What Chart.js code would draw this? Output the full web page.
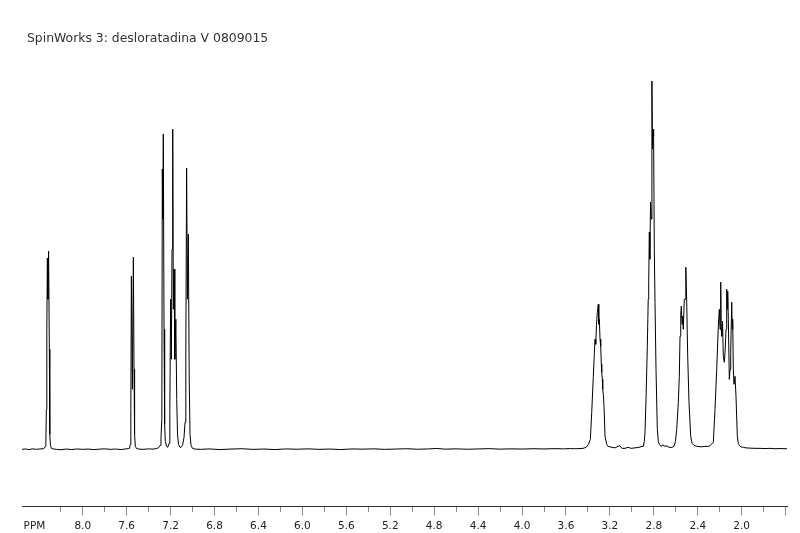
<!DOCTYPE html>
<html><head><meta charset="utf-8">
<script src="https://cdn.jsdelivr.net/npm/chart.js@4.4.0/dist/chart.umd.min.js"></script>
<style>html,body{margin:0;padding:0;background:#fff;}canvas{display:block;}</style>
</head><body>
<canvas id="c" width="800" height="533"></canvas>
<script>
const titleText = 'SpinWorks 3: desloratadina V 0809015';
const axisName = 'PPM';
const axisNamePos = 8.44;
const majorTicks = [8.0, 7.6, 7.2, 6.8, 6.4, 6.0, 5.6, 5.2, 4.8, 4.4, 4.0, 3.6, 3.2, 2.8, 2.4, 2.0];
const tickLabels = ['8.0','7.6','7.2','6.8','6.4','6.0','5.6','5.2','4.8','4.4','4.0','3.6','3.2','2.8','2.4','2.0'];
const minorTicks = [8.2, 7.8, 7.4, 7.0, 6.6, 6.2, 5.8, 5.4, 5.0, 4.6, 4.2, 3.8, 3.4, 3.0, 2.6, 2.2, 1.8];
const edgeTicks = [1.6];
const ppmMin = 1.5875, ppmMax = 8.553;

// spectrum points: [shift (ppm), intensity]
const regionLeft = [[8.553,0],[8.52,0.4],[8.49,-0.3],[8.46,0.5],[8.42,0],[8.39,0.4],[8.36,0.6]];
const peak832 = [[8.352,1],[8.340,3],[8.336,6],[8.331,40],[8.327,120],[8.322,191],[8.317,150],[8.311,198],[8.304,100],[8.300,15],[8.294,4],[8.285,1],[8.27,0.5]];
const region8_7 = [[8.24,0],[8.20,-0.4],[8.15,0.3],[8.10,-0.2],[8.05,0.4],[8.00,0],[7.95,0.3],[7.90,-0.3],[7.85,0.2],[7.80,0.5],[7.75,0],[7.70,0.3],[7.65,-0.2],[7.61,0.4],[7.585,0.8]];
const peak755 = [[7.574,1],[7.567,5],[7.562,40],[7.557,173],[7.548,60],[7.539,192],[7.533,80],[7.528,15],[7.521,3],[7.510,0.8],[7.49,0.3],[7.45,0],[7.40,0.5],[7.36,0.2],[7.33,0.8],[7.31,1.5]];
const peaks720 = [[7.296,4],[7.2875,12],[7.2798,30],[7.2753,280],[7.2707,230],[7.2662,315],[7.2598,120],[7.2543,25],[7.2480,8],[7.2370,3],[7.2261,2],
  [7.2142,6],[7.2069,40],[7.1997,150],[7.1933,90],[7.1869,200],[7.1806,320],[7.1751,140],[7.1687,180],[7.1615,90],[7.1523,130],[7.1442,50],[7.1369,15],[7.1278,5],[7.1141,2],[7.1050,2],
  [7.0914,4],[7.0777,12],[7.0686,27],[7.0613,100],[7.0541,281],[7.0468,150],[7.0386,215],[7.0304,70],[7.0231,15],[7.0140,4],[7.0003,1],[6.978,0.3]];
const regionMid = [[6.93,0],[6.85,0.4],[6.75,-0.2],[6.65,0.3],[6.55,0.6],[6.45,0],[6.35,0.3],[6.25,-0.2],[6.15,0.4],[6.05,0.1],[5.95,0.5],[5.85,0],[5.75,0.3],[5.65,-0.2],[5.55,0.4],[5.45,0.2],[5.35,0.5],[5.25,0],[5.15,0.3],[5.05,0.6],[4.95,0.1],[4.85,0.4],[4.78,0.9],[4.70,0.2],[4.60,0.5],[4.50,0.1],[4.40,0.4],[4.30,0.7],[4.20,0.2],[4.10,0.5],[4.00,0.3],[3.90,0.6],[3.80,0.4],[3.70,0.7],[3.62,0.5],[3.56,0.8],[3.52,0.6]];
const peaks330 = [[3.472,0.8],[3.445,1],[3.417,2],[3.395,5],[3.378,10],[3.3655,37],[3.351,73],[3.342,95],[3.3355,110],[3.329,105],[3.322,125],[3.3146,137],[3.3054,145],[3.301,125],[3.2963,130],[3.290,110],[3.2836,103],[3.278,85],[3.2745,77],[3.269,70],[3.2654,60],[3.260,55],[3.2536,43],[3.2445,13],[3.229,5],[3.217,3],
  [3.181,2],[3.153,1.5],[3.126,3],[3.108,3.5],[3.090,1],[3.062,1],[3.035,2],[3.007,1],[2.971,1.5],[2.935,2],[2.908,3]];
const peaks280 = [[2.8957,3],[2.887,8],[2.8803,17],[2.8712,50],[2.8593,103],[2.851,150],[2.8466,167],[2.8411,217],[2.8366,190],[2.830,247],[2.8238,230],[2.8175,368],[2.812,300],[2.8075,320],[2.802,313],[2.7957,200],[2.7893,147],[2.7802,80],[2.7683,20],[2.759,8],[2.7501,5],
  [2.735,3],[2.717,4.5],[2.698,3],[2.680,3.5],[2.662,2],[2.635,2],[2.616,3]];
const peaks250 = [[2.603,8],[2.5917,20],[2.5771,47],[2.568,73],[2.5616,113],[2.555,135],[2.5498,143],[2.5434,125],[2.537,133],[2.5316,120],[2.5225,150],[2.5161,150],[2.5088,182],[2.5006,147],[2.4915,93],[2.4797,47],[2.4642,13],[2.452,6],[2.434,4],[2.407,3],[2.370,2.5],[2.334,3],[2.298,3]];
const peaks215 = [[2.275,5],[2.2584,7],[2.243,40],[2.2275,80],[2.2129,123],[2.2038,140],[2.1974,120],[2.191,167],[2.1865,120],[2.1819,113],[2.1746,128],[2.1673,93],[2.1582,87],[2.150,100],[2.1427,120],[2.1364,160],[2.132,140],[2.1273,158],[2.1218,130],[2.1127,70],[2.106,80],[2.100,97],[2.0909,147],[2.086,120],[2.0818,130],[2.0763,80],[2.070,65],[2.0609,73],[2.0518,53],[2.0399,13],[2.031,6],[2.0217,4]];
const regionRight = [[2.006,2.5],[1.985,2],[1.961,1.5],[1.924,1.2],[1.879,1],[1.833,1],[1.788,0.8],[1.742,1],[1.697,0.6],[1.651,0.8],[1.5875,0.6]];

const spectrum = [].concat(regionLeft, peak832, region8_7, peak755, peaks720, regionMid, peaks330, peaks280, peaks250, peaks215, regionRight)
  .map(p => ({x: p[0], y: p[1]}));

const near = (a, b) => Math.abs(a - b) < 1e-6;
const isIn = (arr, v) => arr.some(t => near(t, v));

const titlePlugin = {
  id: 'leftTitle',
  afterDraw(chart) {
    const ctx = chart.ctx;
    ctx.save();
    ctx.font = '12.4px "DejaVu Sans"';
    ctx.fillStyle = '#333';
    ctx.textBaseline = 'middle';
    ctx.fillText(titleText, 27, 39);
    ctx.restore();
  }
};

new Chart(document.getElementById('c'), {
  type: 'line',
  data: { datasets: [{ data: spectrum, borderColor: '#000', borderWidth: 1, pointRadius: 0, tension: 0, fill: false }] },
  options: {
    responsive: false, animation: false, devicePixelRatio: 1,
    layout: { padding: { left: 22, right: 13, top: 60, bottom: -5 } },
    plugins: { legend: { display: false }, tooltip: { enabled: false }, title: { display: false } },
    scales: {
      x: {
        type: 'linear', reverse: true, min: ppmMin, max: ppmMax, bounds: 'data',
        afterBuildTicks: (axis) => {
          const vals = [axisNamePos].concat(majorTicks, minorTicks, edgeTicks);
          axis.ticks = vals.map(v => ({ value: v }));
        },
        ticks: {
          autoSkip: false, maxRotation: 0, padding: 5, color: '#222',
          font: { family: 'DejaVu Sans', size: 10.5 },
          callback: (v) => {
            if (near(v, axisNamePos)) return axisName;
            const i = majorTicks.findIndex(t => near(t, v));
            return i >= 0 ? tickLabels[i] : '';
          }
        },
        grid: {
          drawOnChartArea: false, drawTicks: true, tickLength: 9,
          tickColor: (c) => (c.tick && near(c.tick.value, axisNamePos)) ? 'rgba(0,0,0,0)' : '#888',
          tickBorderDash: (c) => (c.tick && isIn(minorTicks, c.tick.value)) ? [5, 40] : []
        },
        border: { display: true, color: '#333', width: 1 }
      },
      y: { display: false, min: -57, max: 389 }
    }
  },
  plugins: [titlePlugin]
});
</script>
</body></html>
